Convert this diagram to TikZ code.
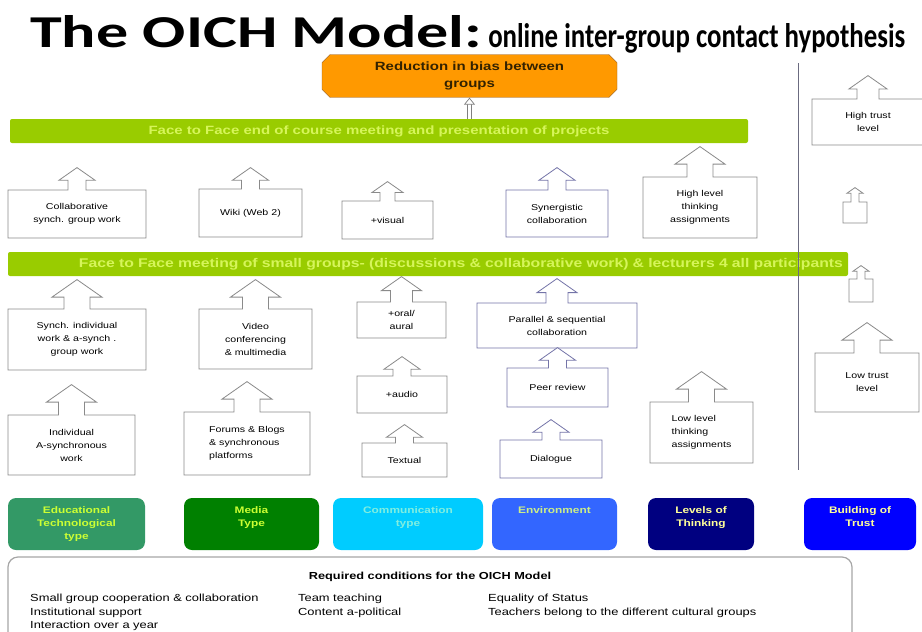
\documentclass[tikz,border=0pt]{standalone}
\usepackage{fontspec}
\setmainfont{Liberation Sans}[FakeStretch=1.25]
\newfontfamily\titlefont{Carlito}
\usepackage{graphicx}
\usetikzlibrary{positioning, calc, arrows.meta, shapes.arrows, shapes.misc}

\definecolor{boxgray}{HTML}{8A8A8A}
\definecolor{envline}{HTML}{7474A8}
\definecolor{bandgreen}{HTML}{99CC00}
\definecolor{bandtext}{HTML}{D6F55A}
\definecolor{biasorange}{HTML}{FF9900}
\definecolor{biasline}{HTML}{8C5A28}
\definecolor{biastext}{HTML}{332200}
\definecolor{edugreen}{HTML}{339966}
\definecolor{mediagreen}{HTML}{008000}
\definecolor{commcyan}{HTML}{00CCFF}
\definecolor{envblue}{HTML}{3366FF}
\definecolor{levelnavy}{HTML}{000080}
\definecolor{trustblue}{HTML}{0000FF}
\definecolor{limetext}{HTML}{CCFF33}
\definecolor{paletext}{HTML}{FFFF99}
\definecolor{commtext}{HTML}{80EEE0}
\definecolor{envtext}{HTML}{CCEE88}
\definecolor{divider}{HTML}{6B6B80}

\tikzset{
	callout/.style={arrow box, draw=boxgray, fill=white, line width=0.8pt, inner sep=1pt,
		align=center, arrow box tip angle=110, font=\fontsize{8.5}{13}\selectfont},
	bodysize/.style 2 args={minimum width=#1pt, minimum height=#2pt},
	bigarrow/.style={arrow box arrows={north:#1pt from border}, arrow box shaft width=26pt, arrow box head extend=12pt},
	midarrow/.style={arrow box arrows={north:#1pt from border}, arrow box shaft width=18pt, arrow box head extend=9pt},
	tinyarrow/.style={arrow box arrows={north:#1pt from border}, arrow box shaft width=8pt, arrow box head extend=4pt},
	band/.style={rectangle, rounded corners=2pt, fill=bandgreen, text=bandtext, inner ysep=0pt,
		font=\bfseries\fontsize{12}{13}\selectfont},
	catbox/.style={rectangle, rounded corners=8pt, minimum height=52pt},
	cattitle/.style={align=center, inner sep=0pt, font=\bfseries\fontsize{9.5}{13}\selectfont},
	condcol/.style={anchor=north west, align=left, inner sep=0pt, font=\fontsize{10.3}{13.5}\selectfont},
	hollow/.style={draw=gray, double=white, double distance=3pt, line width=0.7pt,
		-{Triangle[fill=white, length=7pt, width=11pt]}},
}

\begin{document}
\begin{tikzpicture}[x=1pt, y=-1pt]
	\useasboundingbox (0,0) rectangle (922,632);

	% title
	\node[anchor=base west, inner sep=0pt] (title) at (30,47)
		{\titlefont\bfseries\resizebox{452pt}{32pt}{The OICH Model:}\hspace{6pt}\resizebox{417pt}{24pt}{online inter-group contact hypothesis}};

	% outcome and the two meetings
	\node[chamfered rectangle, chamfered rectangle xsep=4pt, chamfered rectangle ysep=4pt,
		fill=biasorange, draw=biasline, minimum width=295pt, minimum height=42pt, align=center,
		text=biastext, font=\bfseries\fontsize{12}{17}\selectfont] (bias) at (469.5,76) {Reduction in bias between\\groups};
	\node[band, minimum width=738pt, minimum height=24pt] (band1) at (379,131)
		{Face to Face end of course meeting and presentation of projects};
	\node[band, minimum width=840pt, minimum height=24pt, text width=830pt, inner xsep=5pt, align=right,
		font=\bfseries\fontsize{12.6}{13}\selectfont] (band2) at (428,264)
		{Face to Face meeting of small groups- (discussions \& collaborative work) \& lecturers 4 all participants};
	\draw[hollow] (band1.north -| bias.south) -- (bias.south);

	\draw[divider, line width=1pt] (798,63) coordinate (divtop) -- (798,470) coordinate (divbot);

	% upper row
	\node[callout, bodysize={138}{48}, midarrow=22] (collab) at (77,214) {Collaborative\\synch. group work};
	\node[callout, bodysize={103}{48}, midarrow=21] (wiki) at (250.5,213) {Wiki (Web 2)};
	\node[callout, bodysize={91}{38}, arrow box arrows={north:19pt from border}, arrow box shaft width=15pt, arrow box head extend=8pt] (visual) at (387.5,220) {+visual};
	\node[callout, draw=envline, bodysize={102}{47}, midarrow=22] (synergy) at (557,213.5) {Synergistic\\collaboration};
	\node[callout, bodysize={114}{61}, bigarrow=30] (highlevel) at (700,207.5) {High level\\thinking\\assignments};
	\node[callout, bodysize={24}{21}, tinyarrow=14] (trustmid1) at (855,212.5) {};
	\node[callout, bodysize={112}{46}, arrow box arrows={north:23pt from border}, arrow box shaft width=22pt, arrow box head extend=8pt] (hightrust) at (868,122) {High trust\\level};

	% lower rows
	\node[callout, bodysize={138}{61}, bigarrow=29] (synchwork) at (77,339.5) {Synch. individual\\work \& a-synch .\\group work};
	\node[callout, bodysize={127}{60}, bigarrow=30] (indiv) at (71.5,445) {Individual\\A-synchronous\\work};
	\node[callout, bodysize={113}{60}, bigarrow=29] (video) at (255.5,339) {Video\\conferencing\\\& multimedia};
	\node[callout, bodysize={126}{63}, bigarrow=30, align=left] (forums) at (247,443.5) {Forums \& Blogs\\\& synchronous\\platforms};
	\node[callout, bodysize={89}{36}, arrow box arrows={north:25pt from border}, arrow box shaft width=22pt, arrow box head extend=9pt] (oral) at (401.5,320) {+oral/\\aural};
	\node[callout, bodysize={90}{37}, midarrow=19] (audio) at (402,394.5) {+audio};
	\node[callout, bodysize={85}{34}, midarrow=18] (textual) at (404.5,460) {Textual};
	\node[callout, draw=envline, bodysize={160}{45}, arrow box arrows={north:24pt from border}, arrow box shaft width=22pt, arrow box head extend=9pt] (parallel) at (557,325.5) {Parallel \& sequential\\collaboration};
	\node[callout, draw=envline, bodysize={101}{39}, midarrow=20] (peer) at (557.5,387.5) {Peer review};
	\node[callout, draw=envline, bodysize={102}{38}, midarrow=20] (dialogue) at (551,459) {Dialogue};
	\node[callout, bodysize={103}{61}, bigarrow=30, align=left] (lowlevel) at (701.5,432.5) {Low level\\thinking\\assignments};
	\node[callout, bodysize={24}{23}, tinyarrow=13] (trustmid2) at (861,290.5) {};
	\node[callout, bodysize={104}{59}, bigarrow=30] (lowtrust) at (867,382.5) {Low trust\\level};

	% categories
	\node[catbox, fill=edugreen, minimum width=137pt] (edu) at (76.5,524) {};
	\node[cattitle, text=limetext, below=9pt of edu.north] (edutxt) {Educational\\Technological\\type};
	\node[catbox, fill=mediagreen, minimum width=135pt] (media) at (251.5,524) {};
	\node[cattitle, text=limetext, below=9pt of media.north] (mediatxt) {Media\\Type};
	\node[catbox, fill=commcyan, minimum width=150pt] (comm) at (408,524) {};
	\node[cattitle, text=commtext, below=9pt of comm.north] (commtxt) {Communication\\type};
	\node[catbox, fill=envblue, minimum width=125pt] (env) at (554.5,524) {};
	\node[cattitle, text=envtext, below=9pt of env.north] (envtxt) {Environment};
	\node[catbox, fill=levelnavy, minimum width=106pt] (levels) at (701,524) {};
	\node[cattitle, text=paletext, below=9pt of levels.north] (levelstxt) {Levels of\\Thinking};
	\node[catbox, fill=trustblue, minimum width=112pt] (trust) at (860,524) {};
	\node[cattitle, text=paletext, below=9pt of trust.north] (trusttxt) {Building of\\Trust};

	% conditions
	\node[rectangle, rounded corners=10pt, draw=gray!70, line width=1.2pt, minimum width=844pt, minimum height=96pt] (cond) at (430,605) {};
	\node[inner sep=0pt, font=\bfseries\fontsize{10.2}{11}\selectfont, below=16pt of cond.north] (condtitle) {Required conditions for the OICH Model};
	\node[condcol] (cond1) at (30,594) {Small group cooperation \& collaboration\\Institutional support\\Interaction over  a year};
	\node[condcol] (cond2) at (298,594) {Team teaching\\Content a-political};
	\node[condcol] (cond3) at (488,594) {Equality of Status\\Teachers belong to the different cultural groups};
\end{tikzpicture}
\end{document}
